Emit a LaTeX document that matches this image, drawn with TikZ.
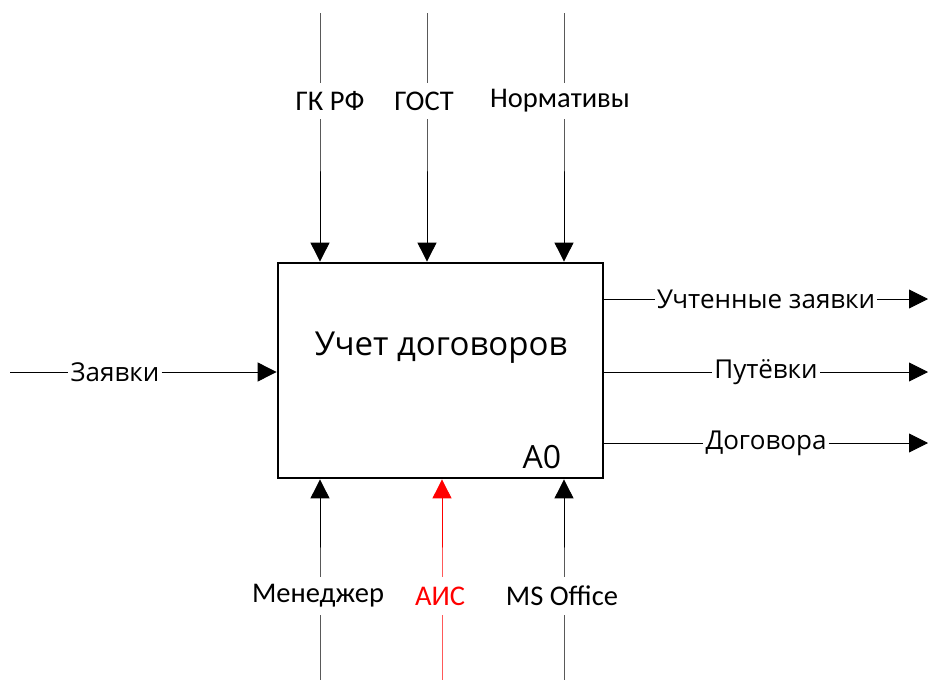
\documentclass[tikz,border=0pt]{standalone}
\usepackage{fontspec}
\setmainfont{Carlito}
\newfontfamily\uifont{Open Sans}
\usetikzlibrary{arrows.meta}
\begin{document}
\begin{tikzpicture}[x=1pt,y=-1pt,
  flow/.style={line width=0.9pt,-{Triangle[length=19pt,width=19pt]}},
  redflow/.style={flow,red},
  toplbl/.style={fill=white,inner sep=1pt,minimum height=36pt,font=\fontsize{28.5}{32}\selectfont},
  sidelbl/.style={fill=white,inner sep=2pt,font=\uifont\fontsize{26}{30}\selectfont},
  funcbox/.style={draw,line width=2.8pt,inner sep=0pt,minimum width=325pt,minimum height=215pt}]
\useasboundingbox (0,0) rectangle (930,680);

% function block
\node[funcbox] (box) at (440.5,370.5) {};
\node[font=\uifont\fontsize{33}{38}\selectfont] (title) at (441,348) {Учет договоров};
\node[font=\uifont\fontsize{32}{38}\selectfont] (num) at (542,457) {A0};

% controls (top)
\coordinate (c1) at (320,13);
\coordinate (c2) at (427,13);
\coordinate (c3) at (564,13);
\node[toplbl] (lc1) at (330,101) {ГК РФ};
\node[toplbl] (lc2) at (424,101) {ГОСТ};
\node[toplbl] (lc3) at (560,101) {Нормативы};
\draw[flow] (c1) -- (c1 |- lc1) -- (c1 |- box.north);
\draw[flow] (c2) -- (c2 |- lc2) -- (c2 |- box.north);
\draw[flow] (c3) -- (c3 |- lc3) -- (c3 |- box.north);
\node[toplbl] at (330,101) {ГК РФ};
\node[toplbl] at (424,101) {ГОСТ};
\node[toplbl] at (560,101) {Нормативы};

% mechanisms (bottom)
\coordinate (m1) at (320,680);
\coordinate (m2) at (442,680);
\coordinate (m3) at (564,680);
\node[toplbl,minimum height=38pt] (lm1) at (318,596) {Менеджер};
\node[toplbl,minimum height=38pt,text=red] (lm2) at (440,596) {АИС};
\node[toplbl,minimum height=38pt] (lm3) at (562,596) {MS Office};
\draw[flow] (m1) -- (m1 |- lm1) -- (m1 |- box.south);
\draw[redflow] (m2) -- (m2 |- lm2) -- (m2 |- box.south);
\draw[flow] (m3) -- (m3 |- lm3) -- (m3 |- box.south);
\node[toplbl,minimum height=38pt] at (318,596) {Менеджер};
\node[toplbl,minimum height=38pt,text=red] at (440,596) {АИС};
\node[toplbl,minimum height=38pt] at (562,596) {MS Office};

% input (left)
\coordinate (i1) at (10,372);
\node[sidelbl] (li1) at (115,372) {Заявки};
\draw[flow] (i1) -- (li1) -- (i1 -| box.west);
\node[sidelbl] at (115,372) {Заявки};

% outputs (right)
\coordinate (o1) at (928,299);
\coordinate (o2) at (928,372);
\coordinate (o3) at (928,443);
\node[sidelbl] (lo1) at (766,299) {Учтенные заявки};
\node[sidelbl] (lo2) at (766,372) {Путёвки};
\node[sidelbl] (lo3) at (766,443) {Договора};
\draw[flow] (o1 -| box.east) -- (lo1) -- (o1);
\draw[flow] (o2 -| box.east) -- (lo2) -- (o2);
\draw[flow] (o3 -| box.east) -- (lo3) -- (o3);
\node[sidelbl] at (766,299) {Учтенные заявки};
\node[sidelbl] at (766,372) {Путёвки};
\node[sidelbl] at (766,443) {Договора};
\end{tikzpicture}
\end{document}
